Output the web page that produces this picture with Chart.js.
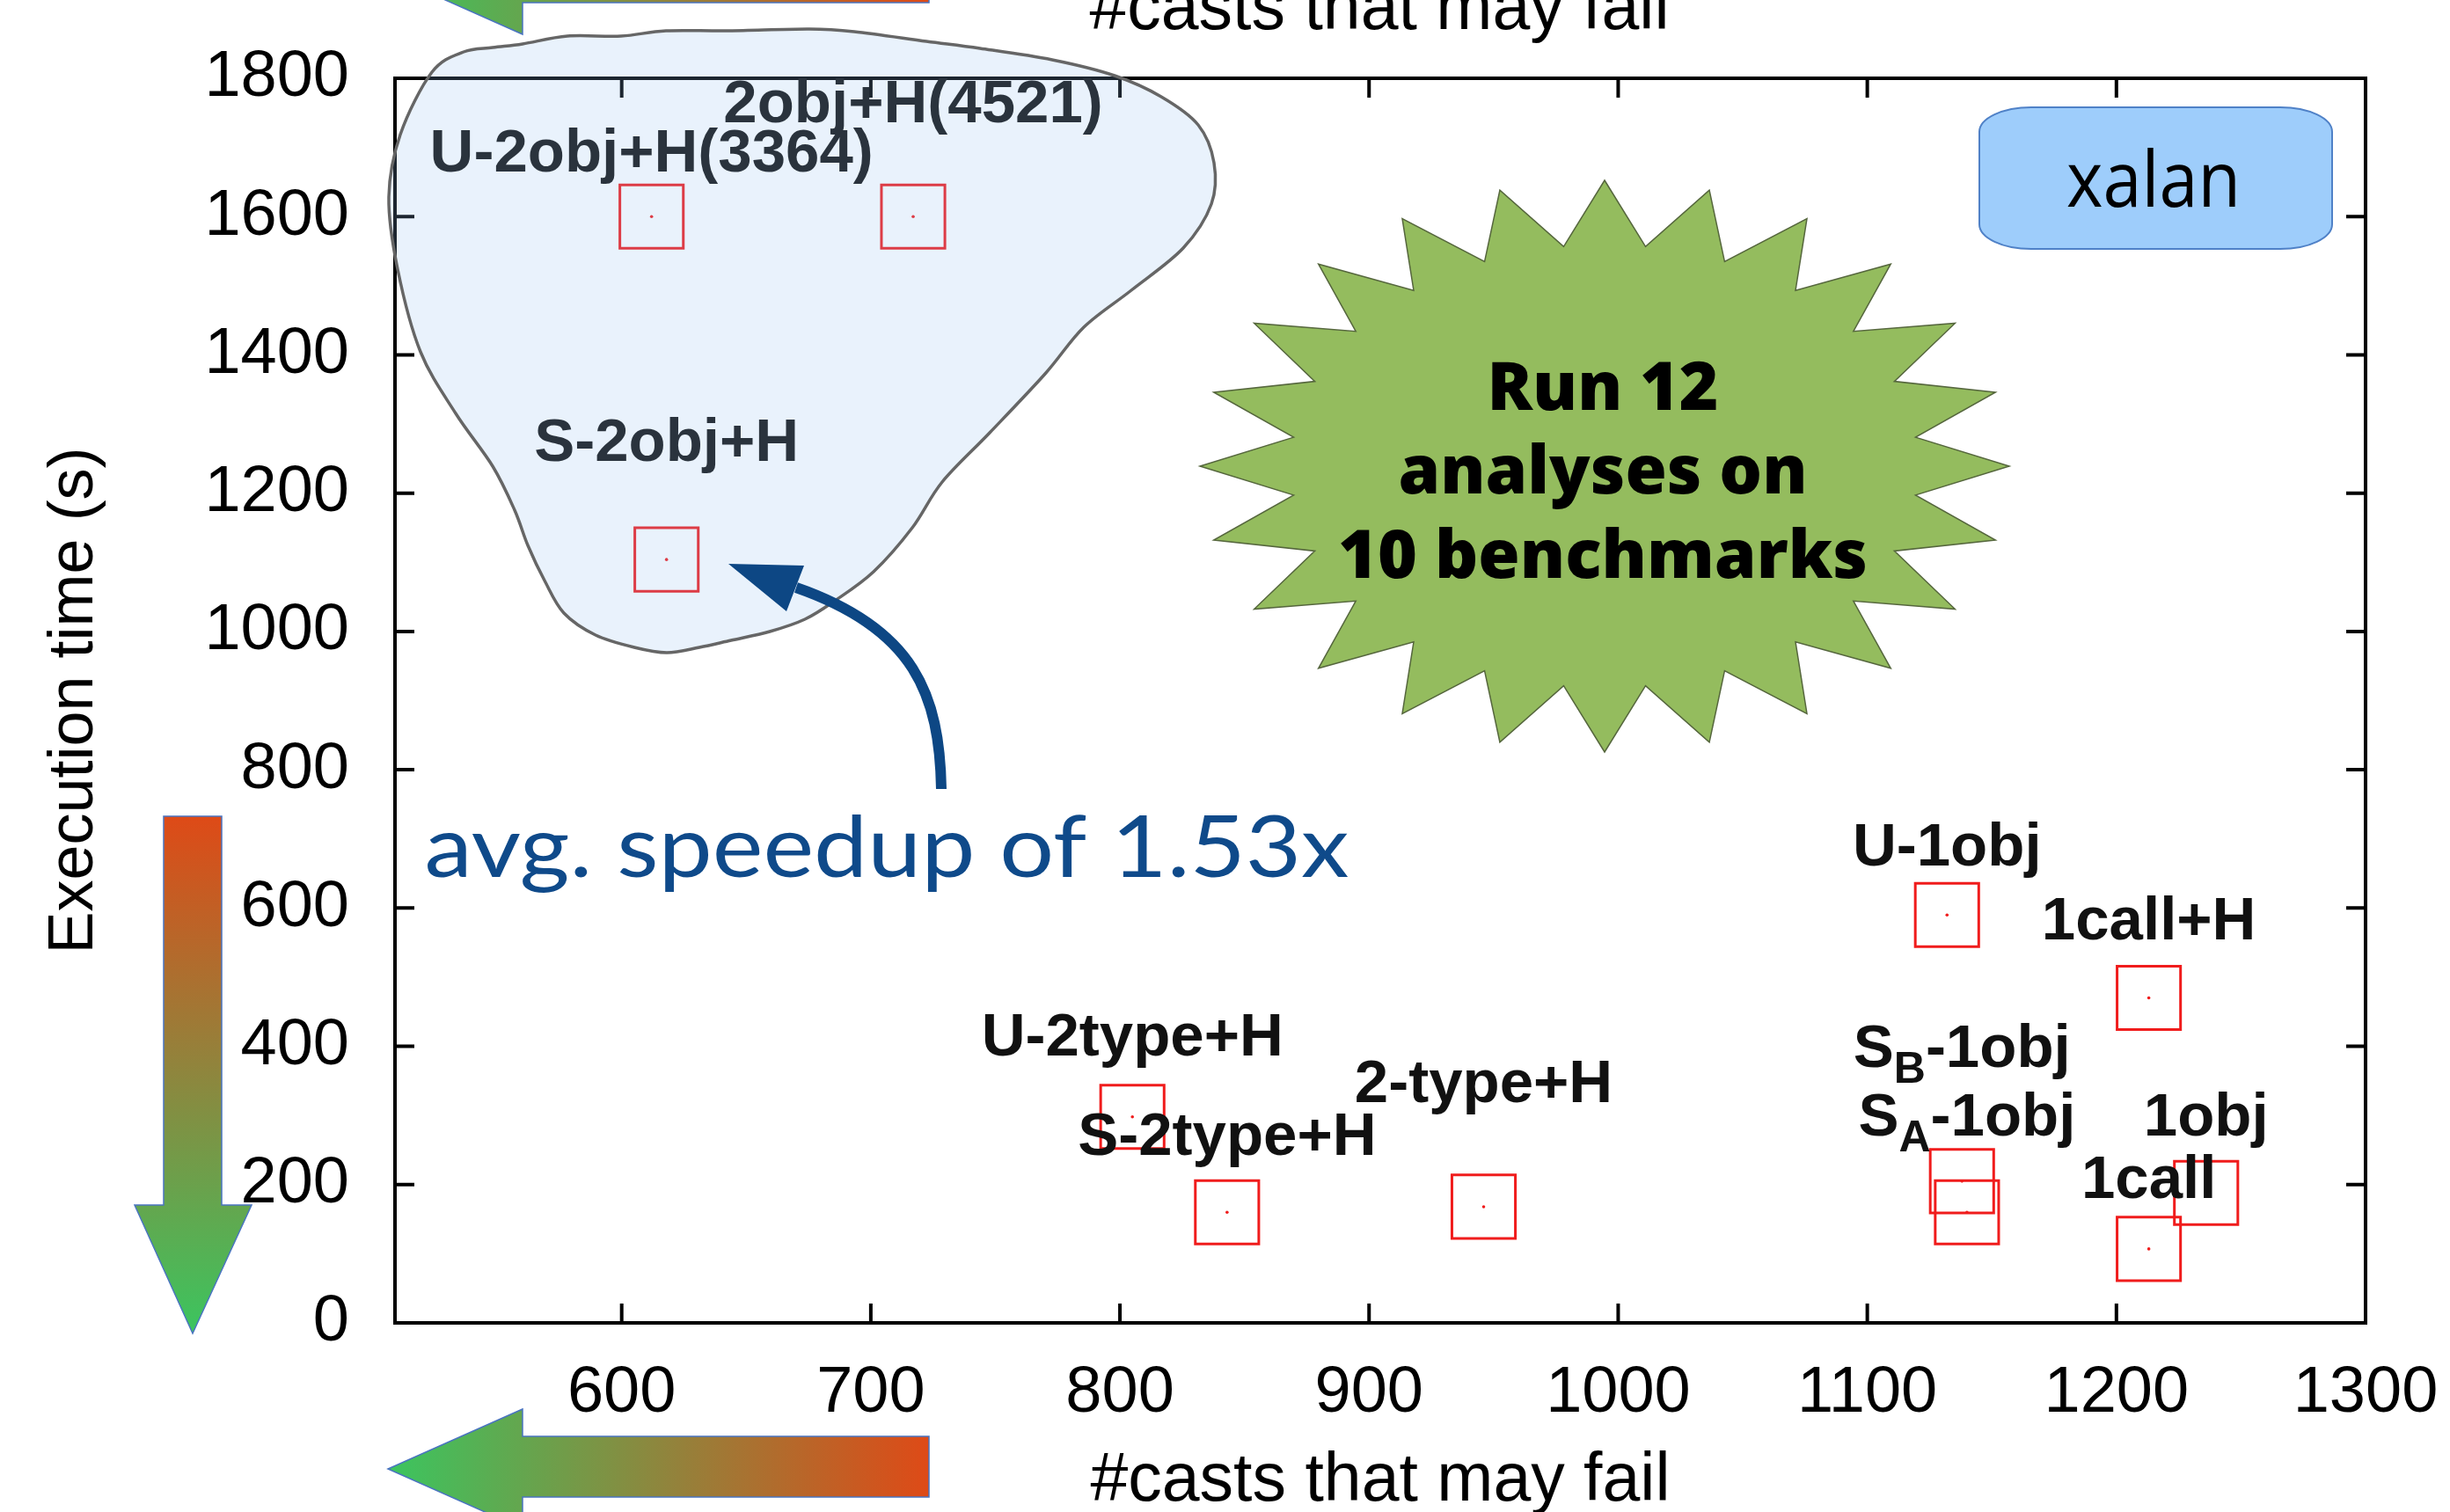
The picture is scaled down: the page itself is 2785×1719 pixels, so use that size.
<!DOCTYPE html>
<html><head><meta charset="utf-8">
<script src="https://cdn.jsdelivr.net/npm/chart.js@4.4.0/dist/chart.umd.min.js"></script>
<style>html,body{margin:0;padding:0;background:#fff;overflow:hidden}#wrap{width:2785px;height:1719px;position:relative}</style>
</head><body><div id="wrap"><canvas id="c" width="2785" height="1719"></canvas></div>
<script>
// ---- data ----
const analyses = ['U-2obj+H(3364)', '2obj+H(4521)', 'S-2obj+H', 'U-2type+H', 'S-2type+H', '2-type+H',
                  'U-1obj', '1call+H', 'S_B-1obj', 'S_A-1obj', '1obj', '1call'];
const castsMayFail = [612, 717, 618, 805, 843, 946, 1132, 1213, 1138, 1140, 1236, 1213];
const execTimes    = [1600, 1600, 1104, 298, 160, 168, 590, 470, 205, 160, 188, 107];
const labelTimes   = [1665, 1736, 1247, 387, 243, 319, 661, 555, 370, 271, 271, 181];
const xTickValues = [600, 700, 800, 900, 1000, 1100, 1200, 1300];
const yTickValues = [0, 200, 400, 600, 800, 1000, 1200, 1400, 1600, 1800];
const xRange = [509, 1300];
const yRange = [0, 1800];
const xAxisTitle = '#casts that may fail';
const yAxisTitle = 'Execution time (s)';
const benchmarkName = 'xalan';
const starLines = ['Run 12', 'analyses on', '10 benchmarks'];
const noteText = 'avg. speedup of 1.53x';

const FONT = '"Liberation Sans", Arial, sans-serif';
const points = castsMayFail.map((x, i) => ({x, y: execTimes[i]}));

function fitText(ctx, text, cx, baseline, font, targetW, color) {
  ctx.save();
  ctx.font = font; ctx.fillStyle = color; ctx.textAlign = 'center'; ctx.textBaseline = 'alphabetic';
  const w = ctx.measureText(text).width;
  const sx = targetW ? targetW / w : 1;
  ctx.translate(cx, baseline); ctx.scale(sx, 1);
  ctx.fillText(text, 0, 0);
  ctx.restore();
}

function smoothClosed(ctx, pts) {
  const n = pts.length;
  ctx.beginPath();
  ctx.moveTo(pts[0][0], pts[0][1]);
  for (let i = 0; i < n; i++) {
    const p0 = pts[(i - 1 + n) % n], p1 = pts[i], p2 = pts[(i + 1) % n], p3 = pts[(i + 2) % n];
    const c1 = [p1[0] + (p2[0] - p0[0]) / 6, p1[1] + (p2[1] - p0[1]) / 6];
    const c2 = [p2[0] - (p3[0] - p1[0]) / 6, p2[1] - (p3[1] - p1[1]) / 6];
    ctx.bezierCurveTo(c1[0], c1[1], c2[0], c2[1], p2[0], p2[1]);
  }
  ctx.closePath();
}

function gradArrow(ctx, poly, g) {
  ctx.save();
  ctx.beginPath();
  poly.forEach((p, i) => i ? ctx.lineTo(p[0], p[1]) : ctx.moveTo(p[0], p[1]));
  ctx.closePath();
  ctx.fillStyle = g; ctx.fill();
  ctx.strokeStyle = '#4a74c0'; ctx.lineWidth = 1.5; ctx.stroke();
  ctx.restore();
}

const frameAndLabels = {
  id: 'frameAndLabels',
  afterDatasetsDraw(chart) {
    const {ctx, chartArea: a, scales: {x, y}} = chart;
    ctx.save();
    // frame
    ctx.strokeStyle = '#000'; ctx.lineWidth = 4;
    ctx.strokeRect(a.left, a.top, a.right - a.left, a.bottom - a.top);
    // inward mirrored ticks
    const tl = 22;
    ctx.beginPath();
    x.ticks.forEach(t => {
      const px = x.getPixelForValue(t.value);
      ctx.moveTo(px, a.bottom); ctx.lineTo(px, a.bottom - tl);
      ctx.moveTo(px, a.top); ctx.lineTo(px, a.top + tl);
    });
    y.ticks.forEach(t => {
      const py = y.getPixelForValue(t.value);
      ctx.moveTo(a.left, py); ctx.lineTo(a.left + tl, py);
      ctx.moveTo(a.right, py); ctx.lineTo(a.right - tl, py);
    });
    ctx.stroke();
    // point labels
    const size = 69;
    ctx.fillStyle = '#111';
    ctx.textBaseline = 'alphabetic';
    ctx.textAlign = 'left';
    analyses.forEach((txt, i) => {
      const segs = [];
      const re = /_(.)/g; let last = 0, m;
      while ((m = re.exec(txt))) {
        if (m.index > last) segs.push({t: txt.slice(last, m.index), sub: false});
        segs.push({t: m[1], sub: true});
        last = m.index + 2;
      }
      if (last < txt.length) segs.push({t: txt.slice(last), sub: false});
      let total = 0;
      segs.forEach(s => {
        ctx.font = 'bold ' + (s.sub ? Math.round(size * 0.72) : size) + 'px ' + FONT;
        s.w = ctx.measureText(s.t).width; total += s.w;
      });
      let cx = x.getPixelForValue(castsMayFail[i]) - total / 2;
      const by = y.getPixelForValue(labelTimes[i]);
      segs.forEach(s => {
        ctx.font = 'bold ' + (s.sub ? Math.round(size * 0.72) : size) + 'px ' + FONT;
        ctx.fillText(s.t, cx, by + (s.sub ? 18 : 0));
        cx += s.w;
      });
    });
    ctx.restore();
  },
  afterDraw(chart) {
    const ctx = chart.ctx;
    ctx.save();
    // translucent blob
    const blob = [[455,153],[491,82],[527,59],[560,54],[594,50],[645,41],[706,41],[757,35],[829,35],[920,33],[971,36],
      [1053,47],[1114,55],[1196,68],[1267,86],[1320,110],[1362,142],[1380,185],[1377,232],[1345,282],[1286,330],
      [1232,372],[1188,425],[1125,492],[1071,548],[1037,600],[993,650],[949,683],[915,704],[875,718],[831,728],
      [795,736],[758,742],[721,736],[677,722],[641,697],[619,660],[600,620],[585,580],[560,530],[518,470],[478,400],
      [452,306],[442,224]];
    smoothClosed(ctx, blob);
    ctx.fillStyle = 'rgba(143,192,240,0.2)'; ctx.fill();
    ctx.strokeStyle = '#666'; ctx.lineWidth = 3.5; ctx.stroke();

    // curved annotation arrow
    ctx.strokeStyle = '#0d4784'; ctx.fillStyle = '#0d4784'; ctx.lineWidth = 12;
    ctx.beginPath(); ctx.moveTo(1070, 897); ctx.bezierCurveTo(1068, 790, 1040, 715, 905, 668); ctx.stroke();
    ctx.beginPath(); ctx.moveTo(828, 641); ctx.lineTo(914, 643); ctx.lineTo(894, 695); ctx.closePath(); ctx.fill();

    // handwriting note
    fitText(ctx, noteText, 1008, 997, '400 97px Lato, "Open Sans", sans-serif', 1051, '#0f4a8a');

    // star burst
    const cx = 1824, cy = 530, rx = 460, ry = 325, n = 24, ratio = 0.775;
    ctx.beginPath();
    for (let i = 0; i < 2 * n; i++) {
      const ang = -Math.PI / 2 + i * Math.PI / n;
      const r = i % 2 === 0 ? 1 : ratio;
      const px = cx + rx * r * Math.cos(ang), py = cy + ry * r * Math.sin(ang);
      i ? ctx.lineTo(px, py) : ctx.moveTo(px, py);
    }
    ctx.closePath();
    ctx.fillStyle = '#94bc5e'; ctx.fill();
    ctx.strokeStyle = '#55663d'; ctx.lineWidth = 1.5; ctx.stroke();
    const starW = [263, 465, 602], starB = [466, 561, 657];
    starLines.forEach((t, i) => fitText(ctx, t, 1822, starB[i], '800 77px "Open Sans", sans-serif', starW[i], '#000'));

    // benchmark name box
    const x0 = 2250, y0 = 122, x1 = 2651, y1 = 283, erx = 59, ery = 28;
    ctx.beginPath();
    ctx.moveTo(x0 + erx, y0); ctx.lineTo(x1 - erx, y0);
    ctx.ellipse(x1 - erx, y0 + ery, erx, ery, 0, -Math.PI / 2, 0);
    ctx.lineTo(x1, y1 - ery);
    ctx.ellipse(x1 - erx, y1 - ery, erx, ery, 0, 0, Math.PI / 2);
    ctx.lineTo(x0 + erx, y1);
    ctx.ellipse(x0 + erx, y1 - ery, erx, ery, 0, Math.PI / 2, Math.PI);
    ctx.lineTo(x0, y0 + ery);
    ctx.ellipse(x0 + erx, y0 + ery, erx, ery, 0, Math.PI, 1.5 * Math.PI);
    ctx.closePath();
    ctx.fillStyle = '#9ecdfb'; ctx.fill();
    ctx.strokeStyle = '#4f81c7'; ctx.lineWidth = 2; ctx.stroke();
    fitText(ctx, benchmarkName, 2448, 235, '400 88px "Open Sans", sans-serif', 198, '#000');

    // gradient arrows
    let g = ctx.createLinearGradient(0, 928, 0, 1516);
    g.addColorStop(0, '#de4a17'); g.addColorStop(0.45, '#96803a'); g.addColorStop(1, '#3bc55f');
    gradArrow(ctx, [[186,928],[252,928],[252,1370],[286,1370],[219,1516],[153,1370],[186,1370]], g);
    g = ctx.createLinearGradient(441, 0, 1056, 0);
    g.addColorStop(0, '#3bc55f'); g.addColorStop(0.55, '#96803a'); g.addColorStop(1, '#de4a17');
    gradArrow(ctx, [[1056,1633],[594,1633],[594,1602],[441,1670],[594,1738],[594,1702],[1056,1702]], g);
    const off = -1699;
    g = ctx.createLinearGradient(441, 0, 1056, 0);
    g.addColorStop(0, '#3bc55f'); g.addColorStop(0.55, '#96803a'); g.addColorStop(1, '#de4a17');
    gradArrow(ctx, [[1056,1633+off],[594,1633+off],[594,1602+off],[441,1670+off],[594,1738+off],[594,1702+off],[1056,1702+off]], g);

    // cut-off title of the figure above
    ctx.font = '77px ' + FONT; ctx.fillStyle = '#000'; ctx.textAlign = 'center'; ctx.textBaseline = 'alphabetic';
    ctx.fillText(xAxisTitle, 1568, 33);
    ctx.restore();
  }
};

new Chart(document.getElementById('c'), {
  type: 'scatter',
  data: {
    datasets: [
      {data: points, pointStyle: 'rect', pointRadius: 51, pointHoverRadius: 51, pointBorderColor: '#f01c1c',
       pointBorderWidth: 3, pointBackgroundColor: 'rgba(0,0,0,0)', showLine: false},
      {data: points, pointStyle: 'circle', pointRadius: 1.8, pointHoverRadius: 1.8, pointBorderWidth: 0,
       pointBackgroundColor: '#f01c1c', showLine: false}
    ]
  },
  options: {
    responsive: false, animation: false, devicePixelRatio: 1, events: [],
    plugins: {legend: {display: false}, tooltip: {enabled: false}},
    layout: {padding: {top: 89, right: 96, bottom: 0, left: 0}},
    scales: {
      x: {
        type: 'linear', position: 'bottom', min: xRange[0], max: xRange[1],
        grid: {display: false, drawTicks: false}, border: {display: false},
        afterBuildTicks(s) { s.ticks = xTickValues.map(v => ({value: v})); },
        ticks: {padding: 5, color: '#000', maxRotation: 0, autoSkip: false,
                font: {family: FONT, size: 74, lineHeight: 2.054}, callback: v => String(v)},
        title: {display: true, text: xAxisTitle, color: '#000', font: {family: FONT, size: 77, lineHeight: 0.8},
                padding: {top: 0, bottom: 3}},
        afterFit(s) { s.height = 215; }
      },
      y: {
        type: 'linear', position: 'left', min: yRange[0], max: yRange[1],
        grid: {display: false, drawTicks: false}, border: {display: false},
        afterBuildTicks(s) { s.ticks = yTickValues.map(v => ({value: v})); },
        ticks: {padding: 52, color: '#000', autoSkip: false, font: {family: FONT, size: 74, lineHeight: 0.5},
                callback: v => String(v)},
        title: {display: true, text: yAxisTitle, color: '#000', font: {family: FONT, size: 72, lineHeight: 1},
                padding: {top: 49, bottom: 0}},
        afterFit(s) { s.width = 449; }
      }
    }
  },
  plugins: [frameAndLabels]
});
</script></body></html>
